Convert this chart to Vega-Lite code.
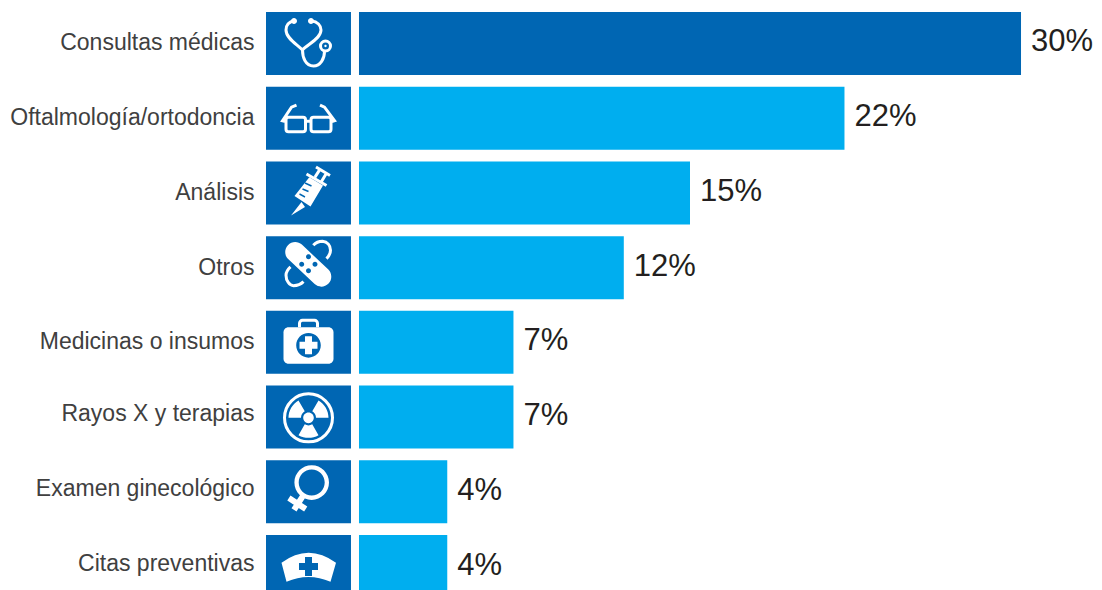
{
  "$schema": "https://vega.github.io/schema/vega-lite/v6.json",
  "width": 836,
  "height": 590,
  "autosize": "none",
  "padding": {"left": 266, "top": 0, "right": 0, "bottom": 0},
  "background": "white",
  "config": {"view": {"stroke": null}},
  "data": {"values": [
    {"motivo": "Consultas médicas", "pct": 30, "grupo": "principal", "icono": "estetoscopio"},
    {"motivo": "Oftalmología/ortodoncia", "pct": 22, "grupo": "resto", "icono": "lentes"},
    {"motivo": "Análisis", "pct": 15, "grupo": "resto", "icono": "jeringa"},
    {"motivo": "Otros", "pct": 12, "grupo": "resto", "icono": "curita"},
    {"motivo": "Medicinas o insumos", "pct": 7, "grupo": "resto", "icono": "botiquin"},
    {"motivo": "Rayos X y terapias", "pct": 7, "grupo": "resto", "icono": "radiacion"},
    {"motivo": "Examen ginecológico", "pct": 4, "grupo": "resto", "icono": "venus"},
    {"motivo": "Citas preventivas", "pct": 4, "grupo": "resto", "icono": "cofia"}
  ]},
  "encoding": {
    "y": {
      "field": "motivo",
      "type": "nominal",
      "sort": null,
      "title": null,
      "scale": {"range": [12, 598], "paddingInner": 0.157, "paddingOuter": 0},
      "axis": {
        "domain": false,
        "ticks": false,
        "grid": false,
        "labelPadding": 12,
        "labelFont": "Liberation Sans",
        "labelFontSize": 23,
        "labelColor": "#404040",
        "labelLimit": 300,
        "labelOffset": {
          "condition": {"test": "indexof(['Rayos X y terapias', 'Examen ginecológico', 'Citas preventivas'], datum.label) >= 0", "value": -3},
          "value": 0
        }
      }
    }
  },
  "layer": [
    {
      "mark": {"type": "bar", "color": "#0066b3"},
      "encoding": {
        "x": {"datum": -4.214, "type": "quantitative", "axis": null, "scale": {"domain": [-4.214, 33.67], "nice": false, "zero": false}},
        "x2": {"datum": -0.363}
      }
    },
    {
      "mark": {"type": "bar"},
      "encoding": {
        "x": {"field": "pct", "type": "quantitative", "axis": null, "scale": {"domain": [-4.214, 33.67], "nice": false, "zero": false}},
        "color": {"field": "grupo", "type": "nominal", "legend": null, "scale": {"domain": ["principal", "resto"], "range": ["#0066b3", "#00aeef"]}}
      }
    },
    {
      "transform": [{"calculate": "datum.pct + '%'", "as": "rotulo"}],
      "mark": {"type": "text", "align": "left", "baseline": "middle", "dx": 10, "dy": -1, "font": "Liberation Sans", "fontSize": 31, "color": "#231f20"},
      "encoding": {
        "x": {"field": "pct", "type": "quantitative", "axis": null, "scale": {"domain": [-4.214, 33.67], "nice": false, "zero": false}},
        "text": {"field": "rotulo", "type": "nominal"}
      }
    },
    {
      "mark": {"type": "point", "filled": false, "stroke": "white", "strokeWidth": 3, "size": 4, "opacity": 1},
      "encoding": {
        "x": {"datum": -2.288, "type": "quantitative", "axis": null, "scale": {"domain": [-4.214, 33.67], "nice": false, "zero": false}},
        "shape": {
          "field": "icono",
          "type": "nominal",
          "legend": null,
          "scale": {
            "domain": ["estetoscopio", "lentes", "jeringa", "curita", "botiquin", "radiacion", "venus", "cofia"],
            "range": [
              "M-14,-22.5C-20,-22 -22.5,-18 -22.5,-13.5C-22.5,-5 -11,1 -6,6.5C-1,1 12.5,-5 12.5,-13.5C12.5,-18 9,-22 3,-22.5M-6,6.5C-6,14 -3,22.5 5,22.5C12,22.5 16,15 16,8M12,2.5A5,5 0 1 0 22,2.5A5,5 0 1 0 12,2.5Z",
              "M-20,-1H-5.5A2.5,2.5 0 0 1 -3,1.5V11A2.5,2.5 0 0 1 -5.5,13.5H-20A2.5,2.5 0 0 1 -22.5,11V1.5A2.5,2.5 0 0 1 -20,-1ZM5,-1H20A2.5,2.5 0 0 1 22.5,1.5V11A2.5,2.5 0 0 1 20,13.5H5A2.5,2.5 0 0 1 2.5,11V1.5A2.5,2.5 0 0 1 5,-1ZM-3,3H2.5M-22,3.5L-26,2.5L-17,-11L-12,-13M22.5,3.5L26,2.5L16,-11L11.5,-13",
              "M-2,-19L18,-7.5M7.5,-26L21.5,-17.5M10.8,-22.5L6.5,-15.8M17.5,-19L13,-11.5",
              "M4.8,-22.5C8,-26 11,-26.5 14,-26.5C19,-26 22,-22 22,-17.5C22,-14 20,-11 18,-9M-18,-0.8C-21,2 -22.5,4 -22.5,7.5C-22.5,13 -19,18 -15,18C-11,18 -8,17 -5,14",
              "M-9,-15V-19A3,3 0 0 1 -6,-22H6A3,3 0 0 1 9,-19V-15",
              "M-24,0.8A24,24 0 1 1 24,0.8A24,24 0 1 1 -24,0.8Z",
              "M0,0",
              "M0,0"
            ]
          }
        }
      }
    },
    {
      "mark": {"type": "point", "filled": true, "fill": "white", "strokeWidth": 0, "size": 4, "opacity": 1},
      "encoding": {
        "x": {"datum": -2.288, "type": "quantitative", "axis": null, "scale": {"domain": [-4.214, 33.67], "nice": false, "zero": false}},
        "shape": {
          "field": "icono",
          "type": "nominal",
          "legend": null,
          "scale": {
            "domain": ["estetoscopio", "lentes", "jeringa", "curita", "botiquin", "radiacion", "venus", "cofia"],
            "range": [
              "M-17.5,-22.5A3,3 0 1 0 -11.5,-22.5A3,3 0 1 0 -17.5,-22.5ZM-0.5,-22.5A3,3 0 1 0 5.5,-22.5A3,3 0 1 0 -0.5,-22.5ZM15.8,2.5A1.2,1.2 0 1 0 18.2,2.5A1.2,1.2 0 1 0 15.8,2.5Z",
              "M0,0",
              "M0.8,-15.8L14.5,-7.5L2,13.5L-14,3ZM-7,9L-3.5,14L-17.5,22.5Z",
              "M-6.64,-23.07L19.86,1.93A10,10 0 0 1 6.14,16.47L-20.36,-8.53A10,10 0 0 1 -6.64,-23.07Z",
              "M-20,-15H20A5,5 0 0 1 25,-10V16.5A5,5 0 0 1 20,21.5H-20A5,5 0 0 1 -25,16.5V-10A5,5 0 0 1 -20,-15Z",
              "M-5.3,0.8A5.3,5.3 0 1 0 5.3,0.8A5.3,5.3 0 1 0 -5.3,0.8ZM-3.75,7.3L-10,18.1A20,20 0 0 0 10,18.1L3.75,7.3A7.5,7.5 0 0 1 -3.75,7.3ZM3.75,-5.7L10,-16.5A20,20 0 0 1 20,0.8L7.5,0.8A7.5,7.5 0 0 0 3.75,-5.7ZM-3.75,-5.7L-10,-16.5A20,20 0 0 0 -20,0.8L-7.5,0.8A7.5,7.5 0 0 1 -3.75,-5.7Z",
              "M-14.1,-9.2A17.3,17.3 0 1 1 20.5,-9.2A17.3,17.3 0 1 1 -14.1,-9.2ZM-9.8,-9.2A13,13 0 1 0 16.2,-9.2A13,13 0 1 0 -9.8,-9.2ZM-3.1,5.8L-12,19.6L-17,16.4L-8.1,2.6ZM-1.2,14.8L-4.4,19.8L-21.2,8.8L-18,3.8Z",
              "M-27,-3.8Q0,-23.8 27.5,-3.8L22,15.2Q0,5.8 -22,15.2Z"
            ]
          }
        }
      }
    },
    {
      "mark": {"type": "point", "filled": true, "fill": "#0066b3", "strokeWidth": 0, "size": 4, "opacity": 1},
      "encoding": {
        "x": {"datum": -2.288, "type": "quantitative", "axis": null, "scale": {"domain": [-4.214, 33.67], "nice": false, "zero": false}},
        "shape": {
          "field": "icono",
          "type": "nominal",
          "legend": null,
          "scale": {
            "domain": ["estetoscopio", "lentes", "jeringa", "curita", "botiquin", "radiacion", "venus", "cofia"],
            "range": [
              "M0,0",
              "M0,0",
              "M-3.8,-9.3L2.7,-6.3L3.3,-7.7L-3.2,-10.7ZM-6.3,-3.3L-0.3,-0.8L0.3,-2.2L-5.7,-4.7ZM-9.3,1.7L-3.8,4.7L-3.2,3.3L-8.7,0.3Z",
              "M-2.5,-10.8A2.5,2.5 0 1 0 2.5,-10.8A2.5,2.5 0 1 0 -2.5,-10.8ZM-9.3,-3.5A2.5,2.5 0 1 0 -4.3,-3.5A2.5,2.5 0 1 0 -9.3,-3.5ZM4,-3.5A2.5,2.5 0 1 0 9,-3.5A2.5,2.5 0 1 0 4,-3.5ZM-2.5,3.2A2.5,2.5 0 1 0 2.5,3.2A2.5,2.5 0 1 0 -2.5,3.2Z",
              "M-12.3,3A12.3,12.3 0 1 1 12.3,3A12.3,12.3 0 1 1 -12.3,3ZM-3.5,-6L-3.5,-0.5L-9,-0.5L-9,6.5L-3.5,6.5L-3.5,12L3.5,12L3.5,6.5L9,6.5L9,-0.5L3.5,-0.5L3.5,-6Z",
              "M0,0",
              "M0,0",
              "M-3.5,-9.5V-3.5H-9.5V3.5H-3.5V9.5H3.5V3.5H9.5V-3.5H3.5V-9.5Z"
            ]
          }
        }
      }
    }
  ],
  "resolve": {"scale": {"shape": "independent"}}
}
